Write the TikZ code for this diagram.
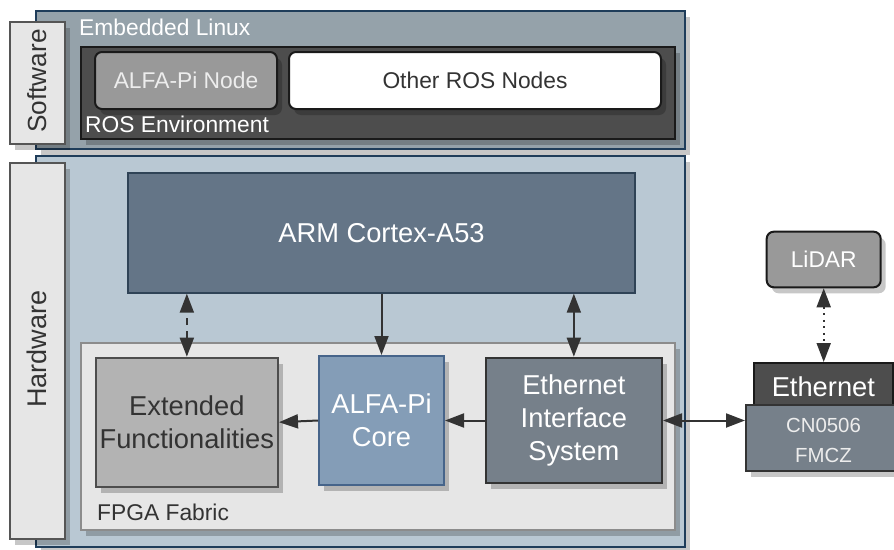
\documentclass[tikz,border=0pt]{standalone}
\usepackage{fontspec}
\setmainfont{Liberation Sans}
\usetikzlibrary{arrows.meta,shadows}

\definecolor{frameblue}{HTML}{1F3D5A}
\definecolor{swfill}{HTML}{95A2AA}
\definecolor{hwfill}{HTML}{B9C8D3}
\definecolor{labelfill}{HTML}{E6E6E6}
\definecolor{labeledge}{HTML}{555555}
\definecolor{rosfill}{HTML}{4D4D4D}
\definecolor{darkedge}{HTML}{1A1A1A}
\definecolor{nodegray}{HTML}{999999}
\definecolor{armfill}{HTML}{647587}
\definecolor{armedge}{HTML}{2F4356}
\definecolor{fpgaedge}{HTML}{8C8C8C}
\definecolor{extfill}{HTML}{B3B3B3}
\definecolor{extedge}{HTML}{4D4D4D}
\definecolor{corefill}{HTML}{849DB7}
\definecolor{coreedge}{HTML}{46648A}
\definecolor{slate}{HTML}{76808A}
\definecolor{slateedge}{HTML}{333333}
\definecolor{inktext}{HTML}{333333}
\definecolor{arrowink}{HTML}{333333}

\newcommand\bigtxt{\fontsize{27.3}{33}\selectfont}
\newcommand\midtxt{\fontsize{22.8}{28}\selectfont}
\newcommand\smalltxt{\fontsize{20.4}{30.6}\selectfont}

\tikzset{
  box/.style={draw, rectangle, line width=2pt, inner sep=0pt, align=center},
  sized/.style 2 args={minimum width=#1pt, minimum height=#2pt},
  shade/.style={drop shadow={shadow xshift=5pt, shadow yshift=-6pt, opacity=0.22, fill=black}},
  caption/.style={anchor=base west, inner sep=0pt, font=\midtxt},
  tip/.tip={Triangle[length=19pt, width=14pt]},
  arr/.style={line width=2pt, draw=arrowink, -tip},
  dbl/.style={line width=2pt, draw=arrowink, tip-tip},
}

\begin{document}
\begin{tikzpicture}[x=1pt, y=-1pt]
\useasboundingbox (0,0) rectangle (894,549);

% ---------- software layer ----------
\node[box, shade, draw=frameblue, fill=swfill, sized={649}{138}] (sw) at (360.5,80) {};
\node[box, shade, draw=labeledge, fill=labelfill, sized={55}{122}] (swlabel) at (37.5,83) {};
\node[rotate=90, font=\fontsize{26.2}{30}\selectfont, text=inktext, inner sep=0pt] (swtext) at (37,81) {Software};
\node[caption, text=white] (swtitle) at (79,35.7) {Embedded Linux};

\node[box, shade, draw=darkedge, fill=rosfill, sized={594}{92}] (ros) at (378,93) {};
\node[caption, text=white] (rostitle) at (85,132.3) {ROS Environment};
\node[box, shade, rounded corners=7pt, draw=darkedge, fill=nodegray, text=white!93!black,
      font=\midtxt, sized={182}{57}] (alfanode) at (186,80.5) {ALFA-Pi Node};
\node[box, shade, rounded corners=7pt, draw=darkedge, fill=white, text=inktext,
      font=\midtxt, sized={372}{57}] (others) at (475,80.5) {Other ROS Nodes};

% ---------- hardware layer ----------
\node[box, shade, draw=frameblue, fill=hwfill, sized={649}{391}] (hw) at (360.5,351.5) {};
\node[box, shade, draw=labeledge, fill=labelfill, sized={55}{376}] (hwlabel) at (37.5,351) {};
\node[rotate=90, font=\fontsize{27}{30}\selectfont, text=inktext, inner sep=0pt] (hwtext) at (37,349) {Hardware};

\node[box, draw=armedge, fill=armfill, text=white, font=\bigtxt, sized={507}{120}] (arm) at (381.5,232.7) {ARM Cortex-A53};

\node[box, shade, draw=fpgaedge, fill=labelfill, sized={594}{187}] (fpga) at (378,436.5) {};
\node[caption, text=inktext] (fpgatitle) at (97,520.7) {FPGA Fabric};

\node[box, shade, draw=extedge, fill=extfill, text=inktext, font=\bigtxt, sized={182.3}{129}] (ext) at (186.85,422.2) {Extended\\Functionalities};
\node[box, shade, draw=coreedge, fill=corefill, text=white, font=\bigtxt, sized={125}{129}] (core) at (381.5,420.5) {ALFA-Pi\\Core};
\node[box, shade, draw=slateedge, fill=slate, text=white, font=\bigtxt, sized={176.3}{125.6}] (eis) at (573.85,420.5) {Ethernet\\Interface\\System};

% ---------- external board and sensor ----------
\node[box, draw=darkedge, fill=rosfill, sized={138.7}{42}] (eth) at (823.35,384) {};
\node[text=white, font=\bigtxt, inner sep=0pt] (ethtext) at (823.35,387) {Ethernet};
\node[box, shade, draw=slateedge, fill=slate, sized={152}{66}] (cn) at (822,438) {};
\node[text=white!93!black, font=\smalltxt, align=center, inner sep=0pt] (cntext) at (823.5,440.5) {CN0506\\FMCZ};
\node[box, shade, rounded corners=7pt, draw=darkedge, fill=nodegray, text=white,
      font=\midtxt, sized={114}{55.6}] (lidar) at (823.7,259.5) {LiDAR};

% ---------- connections ----------
\draw[dbl, dash pattern=on 7pt off 6pt] (ext.north) -- (ext.north |- arm.south);
\draw[arr] (arm.south -| core.north) -- (core.north);
\draw[dbl] (arm.south -| eis.north) -- (eis.north);
\draw[arr] (core.west) -- (ext.east);
\draw[arr] (eis.west) -- (core.east);
\draw[dbl] (eis.east) -- (eis.east -| cn.west);
\draw[dbl, dash pattern=on 2pt off 4.5pt] (lidar.south) -- (lidar.south |- eth.north);
\end{tikzpicture}
\end{document}
